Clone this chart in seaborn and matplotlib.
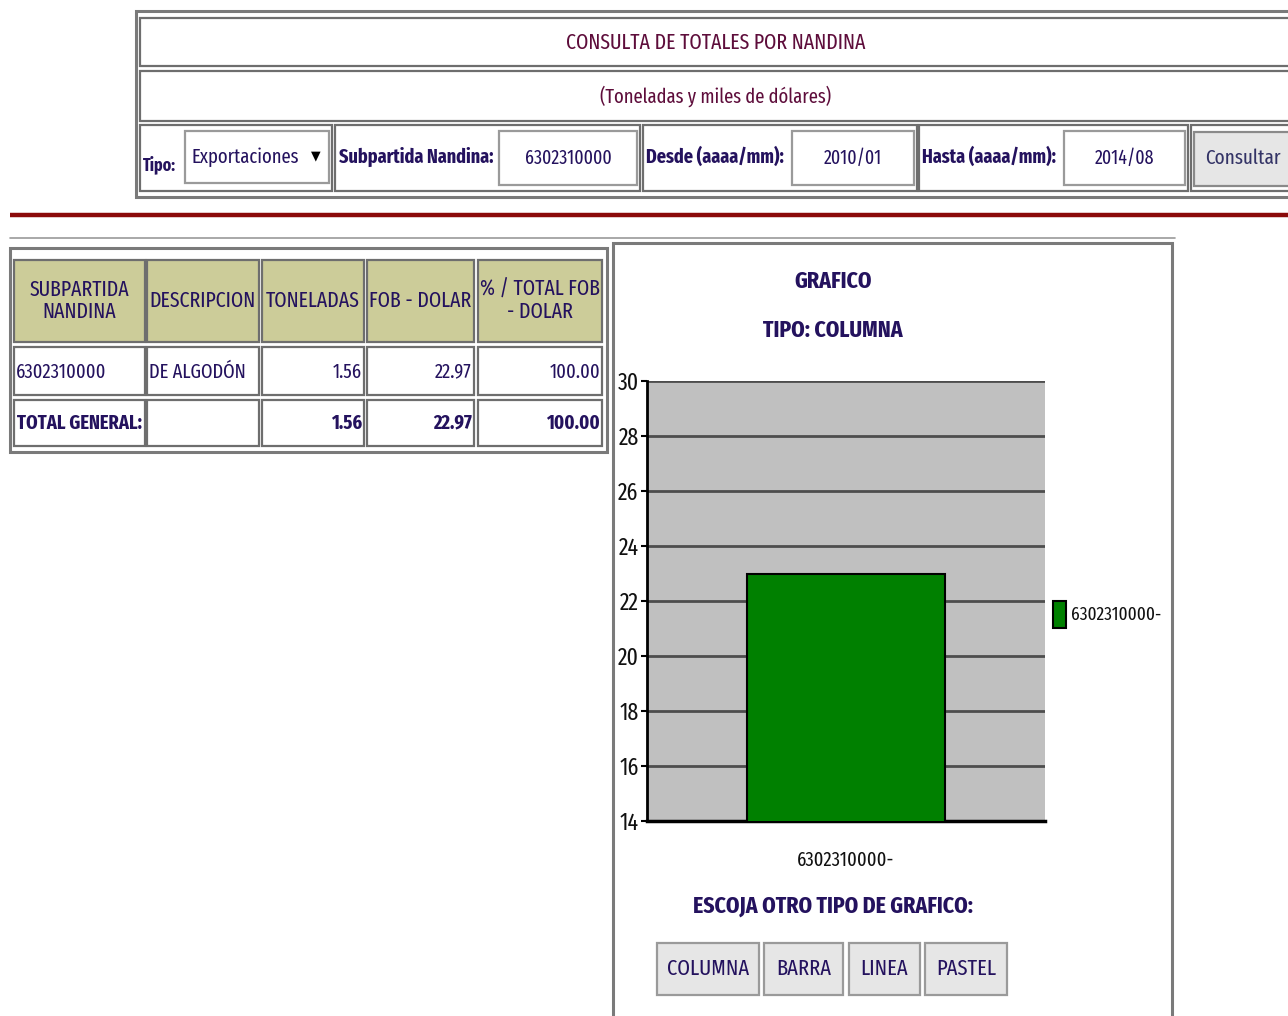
import matplotlib
matplotlib.use("Agg")
import matplotlib.pyplot as plt
from matplotlib.patches import Rectangle
import seaborn as sns

# chart data
categorias = ["6302310000-"]
fob_dolar = [22.97]
y_ticks = [14, 16, 18, 20, 22, 24, 26, 28, 30]

# table data
encabezados = ["SUBPARTIDA\nNANDINA", "DESCRIPCION", "TONELADAS", "FOB - DOLAR", "% / TOTAL FOB\n- DOLAR"]
fila_datos = ["6302310000", "DE ALGODÓN", "1.56", "22.97", "100.00"]
fila_total = ["TOTAL GENERAL:", "", "1.56", "22.97", "100.00"]

# form fields
tipo = "Exportaciones"
subpartida = "6302310000"
desde = "2010/01"
hasta = "2014/08"
botones = ["COLUMNA", "BARRA", "LINEA", "PASTEL"]

sns.set_theme(style="white")
plt.rcParams["font.family"] = ["Fira Sans Extra Condensed", "DejaVu Sans"]

NAVY = "#24125e"
MAROON = "#5e0d3b"
GRID = "#7a7a7a"

W, H = 1288, 1016
fig = plt.figure(figsize=(W / 100, H / 100), dpi=100)

# page layer in pixel coordinates
page = fig.add_axes([0, 0, 1, 1])
page.set_xlim(0, W)
page.set_ylim(H, 0)
page.axis("off")


def box(x0, y0, x1, y1, fc="white", ec="#6e6e6e", lw=1.6):
    page.add_patch(Rectangle((x0, y0), x1 - x0, y1 - y0, fc=fc, ec=ec, lw=lw))


def txt(x, y, s, size=14, color=NAVY, weight="normal", ha="center"):
    page.text(x, y, s, fontsize=size, color=color, weight=weight, ha=ha, va="center",
              linespacing=1.05)


# header block
box(136, 11, 1292, 197, ec=GRID, lw=2.2)
box(140, 18, 1292, 66)
box(140, 71, 1292, 121)
txt(716, 43, "CONSULTA DE TOTALES POR NANDINA", 15.5, MAROON)
txt(716, 96, "(Toneladas y miles de dólares)", 14.5, MAROON)

for x0, x1 in [(140, 332), (335, 640), (643, 917), (919, 1188), (1191, 1292)]:
    box(x0, 125, x1, 191)
txt(143, 165, "Tipo:", 12.5, weight="bold", ha="left")
box(185, 131, 329, 183, ec="#9a9a9a")
txt(192, 157, tipo, 14.5, ha="left")
page.text(316, 156, "▼", fontsize=9, color="black", ha="center", va="center",
          family=["DejaVu Sans"])
txt(339, 157, "Subpartida Nandina:", 14.2, weight="bold", ha="left")
box(499, 131, 637, 185, ec="#9a9a9a")
txt(568, 158, subpartida, 14)
txt(646, 157, "Desde (aaaa/mm):", 14.2, weight="bold", ha="left")
box(792, 131, 914, 185, ec="#9a9a9a")
txt(853, 158, desde, 14)
txt(922, 157, "Hasta (aaaa/mm):", 14.2, weight="bold", ha="left")
box(1064, 131, 1185, 185, ec="#9a9a9a")
txt(1125, 158, hasta, 14)
box(1194, 132, 1292, 186, fc="#e6e6e6", ec="#8a8a8a")
txt(1205, 158, "Consultar", 15, color="#333366", ha="left")

# red separator
page.plot([10, 1288], [215, 215], color="#8b0a0a", lw=3.2, solid_capstyle="butt")

# lower frame
page.plot([10, 1175], [238, 238], color="#9a9a9a", lw=1.2)
box(10, 248, 607, 452, ec=GRID, lw=2.2)
box(613, 243, 1172, 1022, ec=GRID, lw=2.2)

# table
cols = [(14, 145), (147, 259), (262, 364), (367, 474), (478, 602)]
for (x0, x1), s in zip(cols, encabezados):
    box(x0, 260, x1, 342, fc="#cccc99")
    txt((x0 + x1) / 2, 301, s, 15.5)
for i, ((x0, x1), s) in enumerate(zip(cols, fila_datos)):
    box(x0, 347, x1, 395)
    if i < 2:
        txt(x0 + 2, 372, s, 14.5, ha="left")
    else:
        txt(x1 - 2, 372, s, 14.5, ha="right")
for i, ((x0, x1), s) in enumerate(zip(cols, fila_total)):
    box(x0, 400, x1, 446)
    if i < 2:
        txt(x0 + 3, 423, s, 14.5, weight="bold", ha="left")
    else:
        txt(x1 - 2, 423, s, 14.5, weight="bold", ha="right")

# chart titles
txt(833, 281, "GRAFICO", 17, weight="bold")
txt(833, 330, "TIPO: COLUMNA", 17, weight="bold")

# column chart
ax = fig.add_axes([647 / W, 1 - 821 / H, (1045 - 647) / W, (821 - 381) / H])
posiciones = list(range(len(fob_dolar)))
sns.barplot(x=posiciones, y=fob_dolar, color="#008000", saturation=1,
            width=0.5, edgecolor="black", linewidth=1.5, ax=ax, zorder=3)
ax.set_xlim(-0.5, len(fob_dolar) - 0.5)
ax.set_ylim(14, 30)
ax.set_yticks(y_ticks)
ax.set_xticks(posiciones, labels=categorias)
ax.set_facecolor("#c0c0c0")
ax.yaxis.grid(True, color="#4d4d4d", lw=2)
ax.set_axisbelow(True)
for side in ["top", "right"]:
    ax.spines[side].set_visible(False)
ax.spines["left"].set_color("black")
ax.spines["left"].set_linewidth(2)
ax.spines["bottom"].set_color("black")
ax.spines["bottom"].set_linewidth(2.5)
ax.tick_params(axis="y", left=True, length=4, width=1.5, color="black",
               labelsize=17, labelcolor="#111111", pad=2)
ax.tick_params(axis="x", bottom=False, labelsize=14.5, labelcolor="#111111", pad=15)
ax.set_xlabel("")
ax.set_ylabel("")

# legend
page.add_patch(Rectangle((1053, 601), 13, 27, fc="#008000", ec="black", lw=1.5))
txt(1071, 615, categorias[0], 13.5, color="#111111", ha="left")

# chart type chooser
txt(833, 906, "ESCOJA OTRO TIPO DE GRAFICO:", 17, weight="bold")
for (x0, x1), s in zip([(657, 759), (764, 843), (849, 920), (925, 1007)], botones):
    box(x0, 943, x1, 995, fc="#e6e6e6", ec="#9a9a9a")
    txt((x0 + x1) / 2, 969, s, 16)

fig.savefig("out.png", dpi=100)
